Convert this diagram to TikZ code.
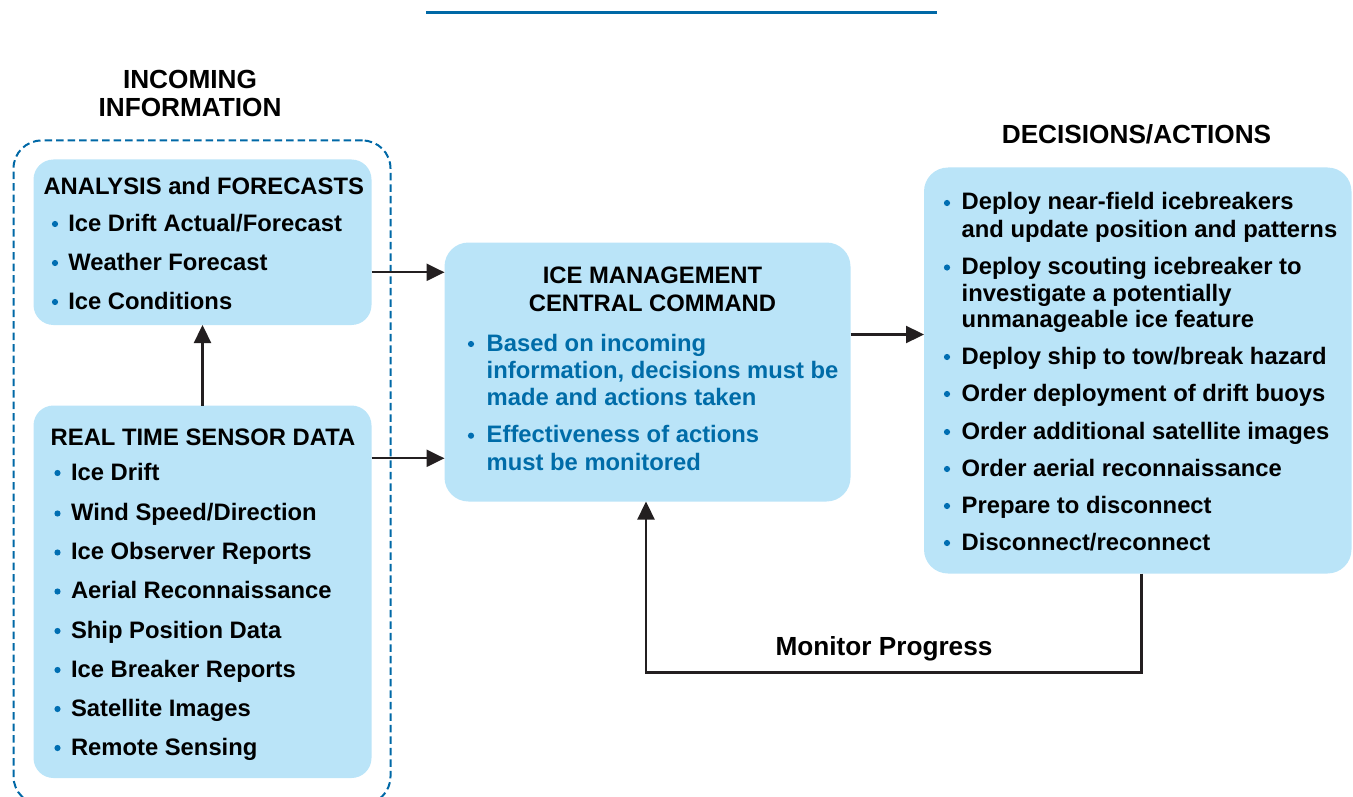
\documentclass[tikz,border=0pt]{standalone}
\usepackage{fontspec}
\setmainfont{Liberation Sans}
\usetikzlibrary{arrows.meta}
\definecolor{boxfill}{RGB}{186,228,248}
\definecolor{frameblue}{RGB}{0,104,166}
\definecolor{bulblue}{RGB}{0,110,178}
\definecolor{txtblue}{RGB}{0,108,168}
\definecolor{arrcol}{RGB}{35,31,32}
\newcommand\bodyfont{\fontsize{23.8}{27}\selectfont\bfseries}
\newcommand\headfont{\fontsize{26.2}{30}\selectfont\bfseries}
\tikzset{
  card/.style={fill=boxfill, draw=none, rounded corners=20pt, inner sep=0pt, outer sep=0pt, anchor=north west},
  txt/.style={inner sep=0pt, outer sep=0pt, anchor=base west, font=\bodyfont, text=black},
  btxt/.style={txt, text=txtblue},
  head/.style={inner sep=0pt, outer sep=0pt, anchor=base, font=\headfont, text=black},
  arr/.style={draw=arrcol, line width=2.3pt, -{Triangle[length=18pt,width=17pt]}},
  bul/.style={fill=bulblue}
}
\newcommand\bdot[2]{\fill[bul] (#1,#2) ++(0,-7) circle[radius=3.1pt];}
\begin{document}
\begin{tikzpicture}[x=1pt,y=-1pt]
\useasboundingbox (0,0) rectangle (1353,797);
% top rule
\draw[frameblue, line width=3pt] (426,12.5) -- (937,12.5);
% headings
\node[head] (h1) at (190,88.3) {INCOMING};
\node[head] (h2) at (190,116.7) {INFORMATION};
\node[head] (h3) at (1136.5,143.3) {DECISIONS/ACTIONS};
% dashed frame
\node[draw=frameblue, line width=2pt, dash pattern=on 7.5pt off 4pt, rounded corners=28pt,
      inner sep=0pt, outer sep=0pt, anchor=north west, minimum width=377pt, minimum height=664pt] (grp) at (13.5,140.5) {};
% cards
\node[card, minimum width=338pt, minimum height=165.5pt] (ana) at (33.5,159.5) {};
\node[card, minimum width=338pt, minimum height=372.5pt] (rts) at (33.5,405.5) {};
\node[card, rounded corners=24pt, minimum width=406pt, minimum height=259pt] (ctr) at (444.5,242.5) {};
\node[card, rounded corners=24pt, minimum width=427.5pt, minimum height=406pt] (dec) at (924,167.5) {};
% analysis
\node[txt] (a0) at (43.5,195) {ANALYSIS and FORECASTS};
\bdot{55}{231}\node[txt] (a1) at (68.3,231) {Ice Drift Actual/Forecast};
\bdot{55}{270}\node[txt] (a2) at (68.3,270) {Weather Forecast};
\bdot{55}{309}\node[txt] (a3) at (68.3,309) {Ice Conditions};
% real time
\node[txt] (r0) at (50.7,445) {REAL TIME SENSOR DATA};
\bdot{57.5}{480}\node[txt] (r1) at (71,480) {Ice Drift};
\bdot{57.5}{520.5}\node[txt] (r2) at (71,520.5) {Wind Speed/Direction};
\bdot{57.5}{559.5}\node[txt] (r3) at (71,559.5) {Ice Observer Reports};
\bdot{57.5}{598.5}\node[txt] (r4) at (71,598.5) {Aerial Reconnaissance};
\bdot{57.5}{638}\node[txt] (r5) at (71,638) {Ship Position Data};
\bdot{57.5}{677}\node[txt] (r6) at (71,677) {Ice Breaker Reports};
\bdot{57.5}{716}\node[txt] (r7) at (71,716) {Satellite Images};
\bdot{57.5}{755}\node[txt] (r8) at (71,755) {Remote Sensing};
% central
\node[txt, anchor=base] (c0) at (652.5,283.3) {ICE MANAGEMENT};
\node[txt, anchor=base] (c1) at (652.5,311.5) {CENTRAL COMMAND};
\bdot{471}{351}\node[btxt] (c2) at (486.7,351) {Based on incoming};
\node[btxt] (c3) at (486.7,378.3) {information, decisions must be};
\node[btxt] (c4) at (486.7,405) {made and actions taken};
\bdot{471}{442.7}\node[btxt] (c5) at (486.7,442.7) {Effectiveness of actions};
\node[btxt] (c6) at (486.7,470) {must be monitored};
% decisions
\bdot{947}{210}\node[txt] (d1) at (961.7,210) {Deploy near-field icebreakers};
\node[txt] (d2) at (961.7,237.5) {and update position and patterns};
\bdot{947}{274.5}\node[txt] (d3) at (961.7,274.5) {Deploy scouting icebreaker to};
\node[txt] (d4) at (961.7,301) {investigate a potentially};
\node[txt] (d5) at (961.7,327) {unmanageable ice feature};
\bdot{947}{364}\node[txt] (d6) at (961.7,364) {Deploy ship to tow/break hazard};
\bdot{947}{401}\node[txt] (d7) at (961.7,401) {Order deployment of drift buoys};
\bdot{947}{439}\node[txt] (d8) at (961.7,439) {Order additional satellite images};
\bdot{947}{476}\node[txt] (d9) at (961.7,476) {Order aerial reconnaissance};
\bdot{947}{513}\node[txt] (d10) at (961.7,513) {Prepare to disconnect};
\bdot{947}{550}\node[txt] (d11) at (961.7,550) {Disconnect/reconnect};
% connectors
\draw[arr] (rts.north) -- (ana.south);
\draw[arr] (ana.east |- 0,272.3) -- (ctr.west |- 0,272.3);
\draw[arr] (rts.east |- 0,458.3) -- (ctr.west |- 0,458.3);
\draw[arr] (ctr.east |- 0,334.5) -- (dec.west |- 0,334.5);
\coordinate (mp) at (1141.5,672.5);
\draw[arr] (dec.south -| mp) -- (mp) -| (ctr.south -| 646,0);
\node[head] (mlab) at (884,655) {Monitor Progress};
\end{tikzpicture}
\end{document}
